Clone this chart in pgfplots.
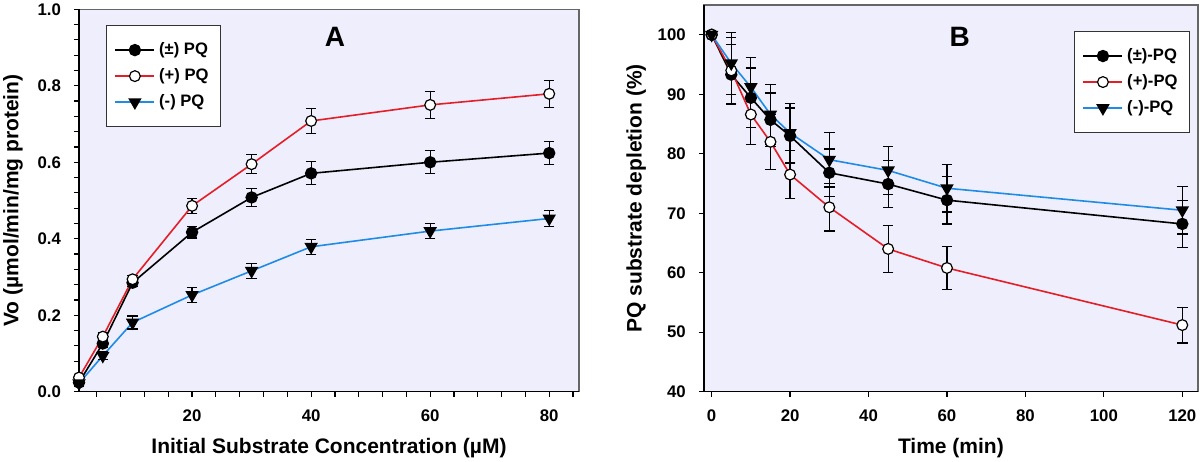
\documentclass[border=0pt]{standalone}
\usepackage{fontspec}
\setmainfont{Liberation Sans}
\usepackage{pgfplots}
\pgfplotsset{compat=1.18}
\definecolor{bgc}{RGB}{238,238,252}
\definecolor{myred}{RGB}{228,30,38}
\definecolor{myblue}{RGB}{30,140,230}

\pgfplotsset{
  common/.style={
    scale only axis,
    axis x line*=bottom, axis y line*=left,
    axis line style={black, line width=0.7pt},
    axis background/.style={fill=bgc, draw=black!60, line width=0.7pt},
    tick align=outside,
    major tick length=2.5pt, minor tick length=2.5pt,
    every tick/.style={black, line width=0.6pt},
    ticklabel style={font=\bfseries\fontsize{8.4}{9}\selectfont},
    /pgf/number format/assume math mode=true,
    label style={font=\bfseries\fontsize{10.5}{12}\selectfont},
    legend style={font=\bfseries\fontsize{8.3}{9}\selectfont, draw=black!80, line width=0.6pt, fill=white, inner xsep=4pt, inner ysep=6.5pt, row sep=1.5pt, cells={anchor=west}},
    legend image code/.code={\draw[mark repeat=2, mark phase=2, #1] plot coordinates {(0pt,0pt) (9.75pt,0pt) (19.5pt,0pt)};},
    error bars/y dir=both, error bars/y explicit,
    error bars/error bar style={black, line width=0.6pt},
    error bars/error mark options={rotate=90, mark size=2.6pt, black, line width=0.6pt},
  },
  sA/.style={black, line width=0.8pt, mark=*, mark size=2.7pt, mark options={fill=black, draw=black, solid}},
  sB/.style={myred, line width=0.8pt, mark=*, mark size=2.7pt, mark options={fill=white, draw=black, line width=0.6pt, solid}},
  sC/.style={myblue, line width=0.8pt, mark=triangle*, mark size=3.1pt, mark options={fill=black, draw=black, rotate=180, solid}},
}

\pgfplotstableread{
x y e
1 0.024 0.008
5 0.126 0.010
10 0.285 0.010
20 0.417 0.015
30 0.508 0.023
40 0.571 0.030
60 0.600 0.030
80 0.624 0.030
}\Ablack
\pgfplotstableread{
x y e
1 0.037 0.008
5 0.144 0.010
10 0.294 0.010
20 0.486 0.019
30 0.595 0.025
40 0.708 0.032
60 0.750 0.035
80 0.779 0.035
}\Ared
\pgfplotstableread{
x y e
1 0.022 0.008
5 0.094 0.010
10 0.181 0.017
20 0.253 0.020
30 0.316 0.020
40 0.379 0.020
60 0.420 0.020
80 0.453 0.020
}\Ablue

\pgfplotstableread{
x y e
0 100 0
5 93.3 5
10 89.4 5
15 85.7 4.5
20 83.0 4.7
30 76.8 4
45 74.9 4
60 72.2 4
120 68.2 4
}\Bblack
\pgfplotstableread{
x y e
0 100 0
5 94.0 5.5
10 86.6 5
15 82.0 4.6
20 76.5 4
30 71.0 4
45 64.0 4
60 60.8 3.6
120 51.2 3
}\Bred
\pgfplotstableread{
x y e
0 100 0
5 95.2 5.2
10 91.2 5
15 86.6 5
20 83.5 5
30 79.0 4.6
45 77.2 4
60 74.2 4
120 70.5 4
}\Bblue

\begin{document}
\begin{tikzpicture}
\useasboundingbox (0,0) rectangle (600pt,230.5pt);
\begin{axis}[common, at={(39.5pt,34.65pt)}, anchor=south west, width=250pt, height=191.2pt,
  xmin=1, xmax=85, ymin=0, ymax=1,
  xtick={20,40,60,80}, minor xtick={4,8,12,16,24,28,32,36,44,48,52,56,64,68,72,76,84},
  ytick={0,0.2,0.4,0.6,0.8,1.0}, minor y tick num=4,
  y tick label style={/pgf/number format/.cd, fixed, fixed zerofill, precision=1, /tikz/.cd},
  xticklabel style={yshift=-3pt}, yticklabel style={xshift=-3pt},
  xlabel={Initial Substrate Concentration (µM)}, ylabel={Vo (µmol/min/mg protein)},
  xlabel style={at={(axis description cs:0.5,-0.147)}, anchor=center},
  ylabel style={at={(axis description cs:-0.132,0.5)}, anchor=center},
  legend style={at={(rel axis cs:0.054,0.959)}, anchor=north west},
  clip=false,
]
\addplot[sA] table[x=x, y=y, y error=e] {\Ablack};
\addlegendentry{(±) PQ}
\addplot[sB] table[x=x, y=y, y error=e] {\Ared};
\addlegendentry{(+) PQ}
\addplot[sC] table[x=x, y=y, y error=e] {\Ablue};
\addlegendentry{(-) PQ}
\node[font=\bfseries\fontsize{14}{16}\selectfont] at (rel axis cs:0.512,0.928) {A};
\end{axis}

\begin{axis}[common, at={(351.9pt,34.65pt)}, anchor=south west, width=247.1pt, height=193.35pt,
  xmin=-2, xmax=124, ymin=40, ymax=105,
  xtick={0,20,40,60,80,100,120},
  ytick={40,50,60,70,80,90,100},
  xticklabel style={yshift=-3pt}, yticklabel style={xshift=-3pt},
  xlabel={Time (min)}, ylabel={PQ substrate depletion (\%)},
  xlabel style={at={(axis description cs:0.5,-0.146)}, anchor=center},
  ylabel style={at={(axis description cs:-0.137,0.5)}, anchor=center},
  legend style={at={(rel axis cs:0.984,0.933)}, anchor=north east},
  clip=false,
]
\addplot[sA] table[x=x, y=y, y error=e] {\Bblack};
\addlegendentry{(±)-PQ}
\addplot[sB] table[x=x, y=y, y error=e] {\Bred};
\addlegendentry{(+)-PQ}
\addplot[sC] table[x=x, y=y, y error=e] {\Bblue};
\addlegendentry{(-)-PQ}
\node[font=\bfseries\fontsize{14}{16}\selectfont] at (rel axis cs:0.518,0.917) {B};
\end{axis}
\end{tikzpicture}
\end{document}
